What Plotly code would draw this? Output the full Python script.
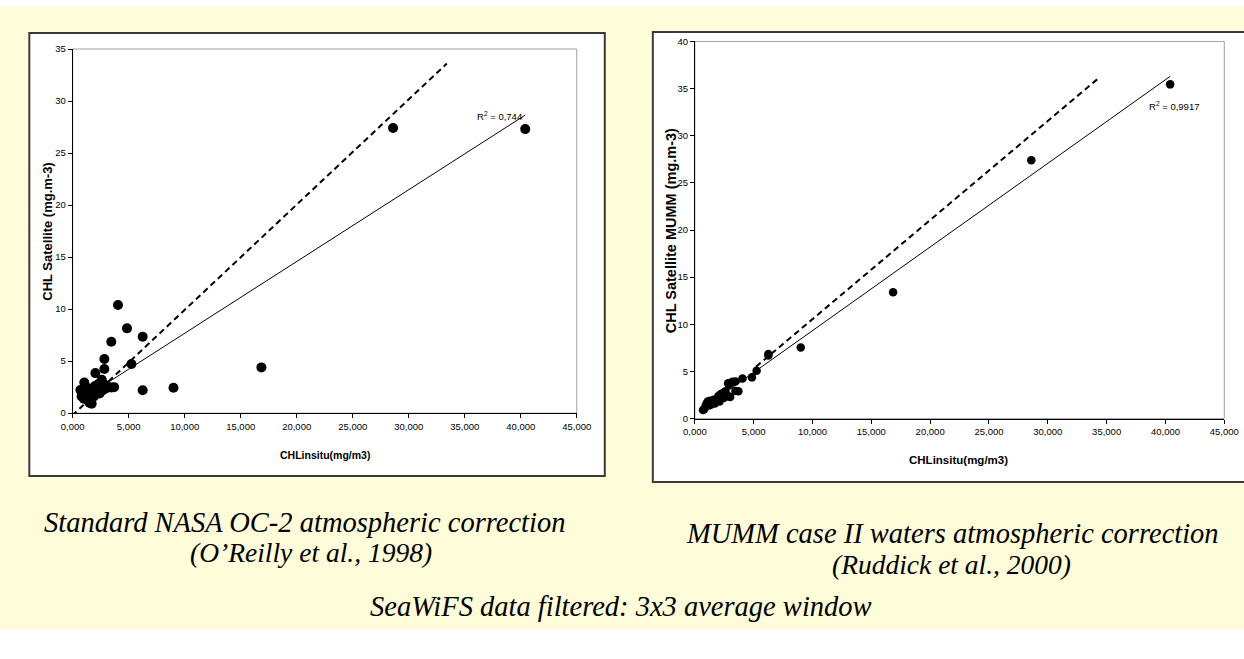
import plotly.graph_objects as go

W, H = 1244, 659

# ---------------- data ----------------
insitu = [40.4, 28.6, 16.85, 9.0, 6.25, 6.25, 5.25, 4.85, 4.05, 3.45, 3.45, 2.83, 2.83, 2.03,
          1.04, 0.69, 0.8, 0.9, 1.0, 1.1, 1.2, 1.3, 1.4, 1.5, 1.6, 1.7, 1.8, 1.9, 2.0, 2.1,
          2.2, 2.3, 2.4, 2.5, 2.6, 2.7, 2.9, 3.0, 3.2, 3.7]
sat_nasa = [27.3, 27.4, 4.4, 2.45, 7.35, 2.2, 4.72, 8.15, 10.4, 6.87, 2.47, 5.2, 4.24, 3.85,
            2.95, 2.22, 1.6, 1.9, 1.4, 2.1, 1.7, 1.3, 2.4, 1.0, 1.8, 0.9, 2.2, 1.6, 2.6, 2.0,
            2.3, 2.8, 1.9, 2.5, 3.2, 2.2, 2.7, 2.4, 2.5, 2.5]
sat_mumm = [35.45, 27.4, 13.4, 7.55, 6.85, 6.7, 5.07, 4.37, 4.25, 3.93, 2.93, 3.75, 2.4, 2.3,
            1.5, 0.9, 1.0, 1.3, 1.6, 1.8, 1.4, 1.9, 1.5, 1.7, 2.0, 1.6, 1.9, 2.1, 2.4, 1.8,
            2.6, 2.3, 2.7, 2.2, 2.9, 2.4, 3.6, 2.3, 3.9, 2.9]

nasa_fit_x, nasa_fit_y = [0.7, 40.4], [1.26, 28.65]
nasa_ref_x, nasa_ref_y = [-0.7, 33.4], [-0.9, 33.6]
mumm_fit_x, mumm_fit_y = [0.5, 40.4], [0.9, 36.3]
mumm_ref_x, mumm_ref_y = [5.2, 34.4], [5.5, 36.2]

x_tickvals = [0, 5, 10, 15, 20, 25, 30, 35, 40, 45]
x_ticktext = ["0,000", "5,000", "10,000", "15,000", "20,000", "25,000",
              "30,000", "35,000", "40,000", "45,000"]
y1_tickvals = [0, 5, 10, 15, 20, 25, 30, 35]
y2_tickvals = [0, 5, 10, 15, 20, 25, 30, 35, 40]

r2_nasa = "R<sup>2</sup> = 0,744"
r2_mumm = "R<sup>2</sup> = 0,9917"

# ---------------- layout helpers (target pixel positions -> paper) ----------------
SX, OX = 0.9775, 12.7
SY, OY = 0.981, 6.1

def px(x):
    return ((x - OX) / SX) / W

def py(y):
    return 1 - ((y - OY) / SY) / H

SANS = "Arial, Liberation Sans, sans-serif"
SERIF = "Times New Roman, Liberation Serif, serif"

fig = go.Figure()

# left panel
fig.add_trace(go.Scatter(x=insitu, y=sat_nasa, mode="markers", xaxis="x", yaxis="y",
                         marker=dict(color="black", size=10, symbol="circle"), showlegend=False))
fig.add_trace(go.Scatter(x=nasa_fit_x, y=nasa_fit_y, mode="lines", xaxis="x", yaxis="y",
                         line=dict(color="black", width=1), showlegend=False))
fig.add_trace(go.Scatter(x=nasa_ref_x, y=nasa_ref_y, mode="lines", xaxis="x", yaxis="y",
                         line=dict(color="black", width=2, dash="6px,4px"), showlegend=False))
# right panel
fig.add_trace(go.Scatter(x=insitu, y=sat_mumm, mode="markers", xaxis="x2", yaxis="y2",
                         marker=dict(color="black", size=8.5, symbol="circle"), showlegend=False))
fig.add_trace(go.Scatter(x=mumm_fit_x, y=mumm_fit_y, mode="lines", xaxis="x2", yaxis="y2",
                         line=dict(color="black", width=1), showlegend=False))
fig.add_trace(go.Scatter(x=mumm_ref_x, y=mumm_ref_y, mode="lines", xaxis="x2", yaxis="y2",
                         line=dict(color="black", width=2, dash="6px,4px"), showlegend=False))

L_dom_x = [px(73.3), px(577)]
L_dom_y = [py(412.3), py(49)]
R_dom_x = [px(695), px(1224)]
R_dom_y = [py(417.7), py(41.5)]

axis_common = dict(showline=True, linecolor="black", linewidth=1, ticks="outside",
                   ticklen=4, tickcolor="black", tickwidth=1, showgrid=False, zeroline=False,
                   tickfont=dict(family=SANS, size=9.5, color="black"))

fig.update_layout(
    width=W, height=H, autosize=False,
    margin=dict(l=0, r=0, t=0, b=0),
    paper_bgcolor="white", plot_bgcolor="rgba(0,0,0,0)",
    xaxis=dict(domain=L_dom_x, range=[0, 45], tickvals=x_tickvals, ticktext=x_ticktext,
               anchor="y", **axis_common),
    yaxis=dict(domain=L_dom_y, range=[0, 35], tickvals=y1_tickvals, anchor="x", **axis_common),
    xaxis2=dict(domain=R_dom_x, range=[0, 45], tickvals=x_tickvals, ticktext=x_ticktext,
                anchor="y2", **axis_common),
    yaxis2=dict(domain=R_dom_y, range=[0, 40], tickvals=y2_tickvals, anchor="x2", **axis_common),
)

shapes = [
    # yellow slide background
    dict(type="rect", xref="paper", yref="paper", x0=-0.02, x1=1.05, y0=py(628), y1=py(7),
         fillcolor="#FFFCD9", line=dict(width=0), layer="below"),
    # chart boxes
    dict(type="rect", xref="paper", yref="paper", x0=px(30), x1=px(605), y0=py(475), y1=py(33),
         fillcolor="white", line=dict(color="#3a3a3a", width=2), layer="below"),
    dict(type="rect", xref="paper", yref="paper", x0=px(653), x1=1.05, y0=py(481), y1=py(32),
         fillcolor="white", line=dict(color="#3a3a3a", width=2), layer="below"),
    # plot-area borders
    dict(type="rect", xref="paper", yref="paper", x0=L_dom_x[0], x1=L_dom_x[1],
         y0=L_dom_y[0], y1=L_dom_y[1], line=dict(color="#a0a0a0", width=1), layer="below"),
    dict(type="rect", xref="paper", yref="paper", x0=R_dom_x[0], x1=R_dom_x[1],
         y0=R_dom_y[0], y1=R_dom_y[1], line=dict(color="#a0a0a0", width=1), layer="below"),
]
fig.update_layout(shapes=shapes)

ann = [
    dict(text="<b>CHL Satellite (mg.m-3)</b>", x=px(48), y=py(231), textangle=-90,
         font=dict(family=SANS, size=13, color="black")),
    dict(text="<b>CHL Satellite MUMM (mg.m-3)</b>", x=px(672), y=py(230), textangle=-90,
         font=dict(family=SANS, size=14.5, color="black")),
    dict(text="<b>CHLinsitu(mg/m3)</b>", x=px(325), y=py(454), font=dict(family=SANS, size=10.5, color="black")),
    dict(text="<b>CHLinsitu(mg/m3)</b>", x=px(958), y=py(459), font=dict(family=SANS, size=11.5, color="black")),
    dict(text="<i>Standard NASA OC-2 atmospheric correction</i>", x=px(305), y=py(521),
         font=dict(family=SERIF, size=28.5, color="black")),
    dict(text="<i>(O’Reilly et al., 1998)</i>", x=px(311), y=py(551),
         font=dict(family=SERIF, size=27.5, color="black")),
    dict(text="<i>MUMM case II waters atmospheric correction</i>", x=px(952), y=py(532),
         font=dict(family=SERIF, size=28.5, color="black")),
    dict(text="<i>(Ruddick et al., 2000)</i>", x=px(951), y=py(563),
         font=dict(family=SERIF, size=27.5, color="black")),
    dict(text="<i>SeaWiFS data filtered: 3x3 average window</i>", x=px(621), y=py(605),
         font=dict(family=SERIF, size=28.5, color="black")),
]
for a in ann:
    a.update(xref="paper", yref="paper", showarrow=False, xanchor="center", yanchor="middle")
ann.append(dict(text=r2_nasa, x=38.1, y=28.6, xref="x", yref="y", showarrow=False,
                font=dict(family=SANS, size=9.5, color="black")))
ann.append(dict(text=r2_mumm, x=40.7, y=33.2, xref="x2", yref="y2", showarrow=False,
                font=dict(family=SANS, size=9.5, color="black")))
fig.update_layout(annotations=ann)

post = ("document.documentElement.style.margin='0';document.documentElement.style.padding='0';"
        "document.documentElement.style.overflow='hidden';"
        "document.body.style.margin='0';document.body.style.padding='0';"
        "document.body.style.overflow='hidden';")
fig.write_html("out.html", config={"displayModeBar": False}, post_script=post)
